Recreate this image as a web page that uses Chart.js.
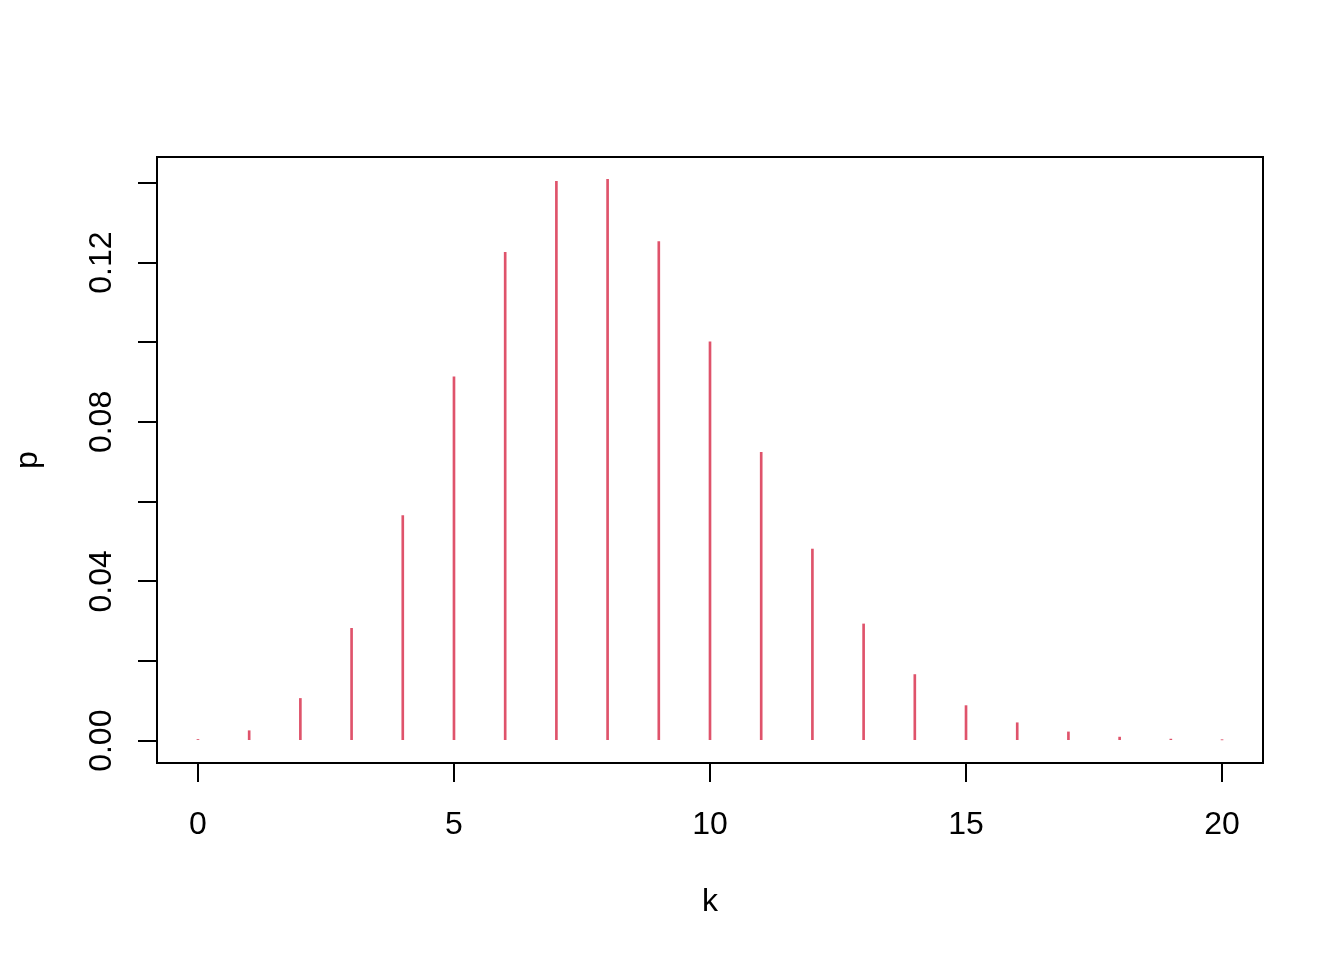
<!DOCTYPE html>
<html>
<head>
<meta charset="utf-8">
<script src="https://cdn.jsdelivr.net/npm/chart.js@4"></script>
<style>
    body { margin: 0; background: #ffffff; }
    #wrap { width: 1344px; height: 960px; }
</style>
</head>
<body>
<div id="wrap"><canvas id="grafico" width="1344" height="960"></canvas></div>
<script>
// valores
const kValues = [0, 1, 2, 3, 4, 5, 6, 7, 8, 9, 10, 11, 12, 13, 14, 15, 16, 17, 18, 19, 20];
const pValues = [0.0003, 0.0025, 0.0106, 0.0282, 0.0565, 0.0913, 0.1226, 0.1404, 0.1409, 0.1253,
                 0.1001, 0.0724, 0.0481, 0.0293, 0.0166, 0.0088, 0.0045, 0.0022, 0.0009, 0.0004, 0.0002];
const xTickLabels = ['0', '5', '10', '15', '20'];
const yTickLabels = ['0.00', '0.04', '0.08', '0.12'];

const fonte = "'Liberation Sans', Arial, sans-serif";

// desenha a caixa em volta da area do grafico
const caixa = {
    id: 'caixa',
    afterDraw(chart) {
        const a = chart.chartArea;
        const ctx = chart.ctx;
        ctx.save();
        ctx.strokeStyle = '#000000';
        ctx.lineWidth = 2;
        ctx.strokeRect(Math.round(a.left), Math.round(a.top), Math.round(a.right - a.left), Math.round(a.bottom - a.top));
        ctx.restore();
    }
};

const pontos = kValues.map((k, i) => ({ x: k, y: pValues[i] }));

new Chart(document.getElementById('grafico'), {
    type: 'bar',
    data: {
        datasets: [{
            data: pontos,
            backgroundColor: '#DF536B',
            borderWidth: 0,
            barThickness: 2
        }]
    },
    options: {
        responsive: false,
        animation: false,
        layout: { padding: { top: 157, right: 81, left: 0, bottom: 0 } },
        plugins: { legend: { display: false }, tooltip: { enabled: false } },
        scales: {
            x: {
                type: 'linear',
                min: -0.8,
                max: 20.8,
                offset: false,
                afterFit: s => { s.height = 197; },
                border: { display: false },
                grid: { offset: false, drawOnChartArea: false, drawTicks: true, tickLength: 19, color: '#000000', lineWidth: 2 },
                ticks: {
                    stepSize: 5,
                    includeBounds: false,
                    autoSkip: false,
                    maxRotation: 0,
                    padding: 24,
                    color: '#000000',
                    font: { family: fonte, size: 32 },
                    callback: v => xTickLabels.includes(String(v)) ? String(v) : ''
                },
                title: {
                    display: true,
                    text: 'k',
                    color: '#000000',
                    font: { family: fonte, size: 32 },
                    padding: { top: 0, bottom: 39 }
                }
            },
            y: {
                min: -0.0056,
                max: 0.1465,
                afterFit: s => { s.width = 157; },
                border: { display: false },
                grid: { drawOnChartArea: false, drawTicks: true, tickLength: 19, color: '#000000', lineWidth: 2 },
                ticks: {
                    stepSize: 0.02,
                    includeBounds: false,
                    autoSkip: false,
                    minRotation: 90,
                    maxRotation: 90,
                    crossAlign: 'center',
                    padding: 5,
                    color: '#000000',
                    font: { family: fonte, size: 32 },
                    callback: v => {
                        const rotulo = v.toFixed(2);
                        return yTickLabels.includes(rotulo) ? rotulo : '';
                    }
                },
                title: {
                    display: true,
                    text: 'p',
                    color: '#000000',
                    font: { family: fonte, size: 32 },
                    padding: { top: 9, bottom: 0 }
                }
            }
        }
    },
    plugins: [caixa]
});
</script>
</body>
</html>
